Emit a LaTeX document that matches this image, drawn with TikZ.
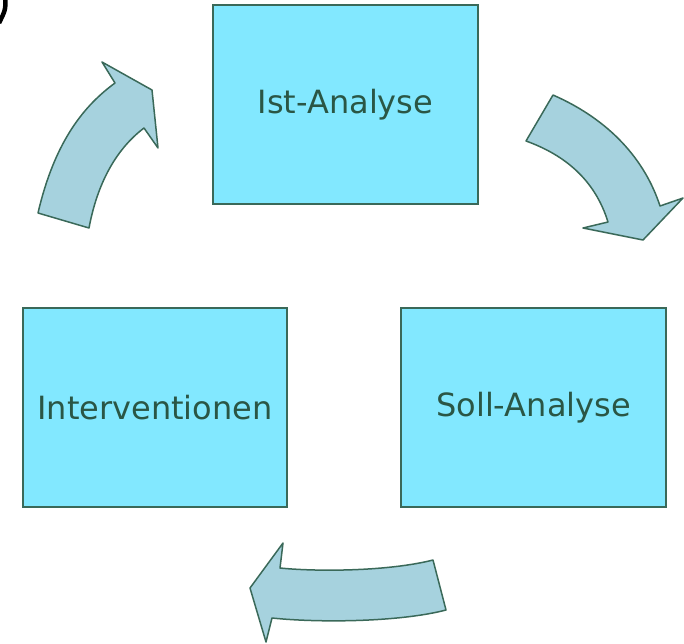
\documentclass[tikz,border=0pt]{standalone}
\usepackage{tikz}
\usepackage{xcolor}
\usepackage{fontspec}
\setmainfont{DejaVu Sans}

\definecolor{kasten}{HTML}{82E8FF}
\definecolor{rand}{HTML}{3A6959}
\definecolor{schrift}{HTML}{2A5645}
\definecolor{pfeil}{HTML}{A6D2DE}

\begin{document}
\begin{tikzpicture}[x=1pt, y=-1pt,
		phase/.style={draw=rand, line width=1.7pt, fill=kasten, text=schrift, font=\fontsize{32}{36}\selectfont, minimum width=265pt, minimum height=199pt, inner sep=0pt},
		bogen/.style={draw=rand, line width=1.5pt, fill=pfeil, line join=round}]
		      		\useasboundingbox (0,0) rectangle (684,643);

		      		% Klammer oben links
		      		\draw[line width=4.5pt] (5.5,-3) .. controls (5.5,10) .. (-1,23);

		      		\node[phase] (ist) at (345.5,104.5) {Ist-Analyse};
		      		\node[phase] (soll) at (533.5,407.5) {Soll-Analyse};
		      		\node[phase, minimum width=264pt] (interv) at (155,407.5) {Interventionen};

		      		% Pfeile
		      		\draw[bogen] (553,95) .. controls (610,120) and (645,160) .. (660,206) -- (683,198) -- (643,240) -- (583,228) -- (608,222) .. controls (595,180) and (565,155) .. (526,141) -- cycle;
		      		\draw[bogen] (433,560) .. controls (390,571) and (320,572) .. (280,568) -- (283,543) -- (250,588) -- (266,642) -- (272,618) .. controls (320,623) and (400,622) .. (446,610) -- cycle;
		      		\draw[bogen] (89,228) .. controls (97,185) and (115,150) .. (144,128) -- (158,148) -- (152,90) -- (102,62) -- (115,83) .. controls (85,105) and (55,140) .. (38,213) -- cycle;
		      	\end{tikzpicture}
\end{document}
